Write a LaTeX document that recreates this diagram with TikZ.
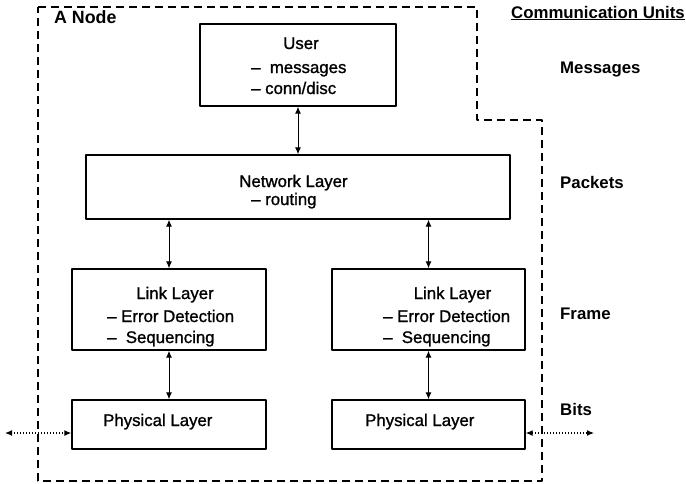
\documentclass[tikz,border=0pt]{standalone}
\usepackage{fontspec}
\setmainfont{Liberation Sans}
\newfontfamily\boxfont{Liberation Sans}[FakeBold=1.2]
\usetikzlibrary{arrows.meta}
\tikzset{
  layer/.style={draw,line width=1.4pt,inner sep=0pt},
  txt/.style={inner sep=0pt,font=\fontsize{16.8}{20}\boxfont},
  unit/.style={inner sep=0pt,font=\fontsize{16.8}{20}\selectfont\bfseries},
  link/.style={{Latex[length=7pt,width=6pt]}-{Latex[length=7pt,width=6pt]},line width=1pt},
  wire/.style={link,dotted,line width=1.2pt},
}
\begin{document}
\begin{tikzpicture}[x=1pt,y=-1pt,line join=bevel]
\useasboundingbox (0,0) rectangle (686,483);
  % Boundary: A Node
  \draw [dash pattern=on 8pt off 5pt,line width=1.1pt]
    (38,7) -- (477,7) -- (477,120) -- (542,120) -- (542,481) -- (38,481) -- cycle;
  \node [unit,font=\fontsize{17.8}{20}\selectfont\bfseries,anchor=base west] (nodelbl) at (54,23) {A Node};
  % Node: user
  \node [layer,minimum width=196pt,minimum height=82pt] (user) at (298,65) {};
  \node [txt,anchor=base] (usertitle) at (301,49) {User};
  \node [txt,anchor=base west] (usermsg) at (251,73) {–\ \ messages};
  \node [txt,anchor=base west] (userconn) at (251,94) {– conn/disc};
  % Node: net
  \node [layer,minimum width=424pt,minimum height=64pt] (net) at (298,187) {};
  \node [txt,anchor=base] (nettitle) at (293.5,187) {Network Layer};
  \node [txt,anchor=base west] (netrout) at (251,205) {– routing};
  % Node: linkA
  \node [layer,minimum width=194pt,minimum height=81pt] (linkA) at (169,309.5) {};
  \node [txt,anchor=base] (linkAtitle) at (175,299) {Link Layer};
  \node [txt,anchor=base west] (linkAerr) at (107,322) {– Error Detection};
  \node [txt,anchor=base west] (linkAseq) at (107,343) {–\ \ Sequencing};
  % Node: linkB
  \node [layer,minimum width=193pt,minimum height=81pt] (linkB) at (428.5,309.5) {};
  \node [txt,anchor=base] (linkBtitle) at (452.5,299) {Link Layer};
  \node [txt,anchor=base west] (linkBerr) at (383,322) {– Error Detection};
  \node [txt,anchor=base west] (linkBseq) at (383,343) {–\ \ Sequencing};
  % Node: physA
  \node [layer,minimum width=194pt,minimum height=49pt] (physA) at (169,424.5) {};
  \node [txt,anchor=base west] (physAtitle) at (103,426) {Physical Layer};
  % Node: physB
  \node [layer,minimum width=193pt,minimum height=49pt] (physB) at (428.5,424.5) {};
  \node [txt,anchor=base west] (physBtitle) at (365,426) {Physical Layer};
  % Communication units
  \node [unit,anchor=base west] (unitshead) at (511,18) {\underline{Communication Units}};
  \node [unit,anchor=base west] (unitmsg) at (560,73) {Messages};
  \node [unit,anchor=base west] (unitpkt) at (560,188) {Packets};
  \node [unit,anchor=base west] (unitfrm) at (560,319) {Frame};
  \node [unit,anchor=base west] (unitbit) at (560,415) {Bits};
  % Edge: user <-> net
  \draw [link] (user.south) -- (user.south |- net.north);
  % Edge: net <-> linkA
  \draw [link] (linkA.north |- net.south) -- (linkA.north);
  % Edge: net <-> linkB
  \draw [link] (linkB.north |- net.south) -- (linkB.north);
  % Edge: linkA <-> physA
  \draw [link] (linkA.south) -- (physA.north);
  % Edge: linkB <-> physB
  \draw [link] (linkB.south) -- (physB.north);
  % Edge: wires
  \coordinate (wireA) at (5,433);
  \coordinate (wireB) at (594,433);
  \draw [wire] (wireA) -- (wireA -| physA.west);
  \draw [wire] (wireB -| physB.east) -- (wireB);
%
\end{tikzpicture}
\end{document}
